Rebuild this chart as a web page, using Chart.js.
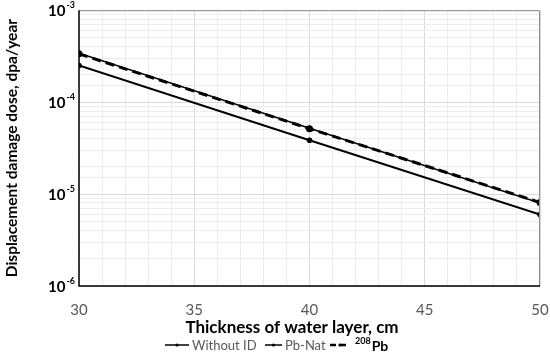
<!DOCTYPE html>
<html>
<head>
<meta charset="utf-8">
<script src="https://cdn.jsdelivr.net/npm/chart.js@4"></script>
<style>
  body { margin: 0; background: #fff; }
  #wrap { width: 550px; height: 355px; }
</style>
</head>
<body>
<div id="wrap"><canvas id="doseChart" width="550" height="355"></canvas></div>
<script>
const thickness = [30, 40, 50];
const withoutId = [2.5e-4, 3.85e-5, 6.0e-6];
const pbNat = [3.4e-4, 5.2e-5, 8.0e-6];
const pb208 = [3.35e-4, 5.15e-5, 8.1e-6];
const seriesNames = ['Without ID', 'Pb-Nat', '208Pb'];
const decadeTicks = [1e-6, 1e-5, 1e-4, 1e-3];
const decadeExps = ['-6', '-5', '-4', '-3'];
const xTitle = 'Thickness of water layer, cm';

const FONT = "Lato, 'Open Sans', sans-serif";

function pairs(ys) {
  return thickness.map((x, i) => ({ x: x, y: ys[i] }));
}

// frame, 10^n labels, x title and the legend with a superscript
const extras = {
  id: 'extras',
  afterDraw: (chart) => {
    const { ctx, chartArea: a, scales: { y } } = chart;
    ctx.save();
    ctx.strokeStyle = '#8c8c8c';
    ctx.lineWidth = 1;
    ctx.beginPath();
    ctx.moveTo(a.left, a.top + 0.5);
    ctx.lineTo(a.right - 0.5, a.top + 0.5);
    ctx.lineTo(a.right - 0.5, a.bottom);
    ctx.stroke();
    ctx.strokeStyle = '#000';
    ctx.lineWidth = 1.5;
    ctx.beginPath();
    ctx.moveTo(a.left, a.top);
    ctx.lineTo(a.left, a.bottom);
    ctx.lineTo(a.right, a.bottom);
    ctx.stroke();

    ctx.fillStyle = '#000';
    ctx.textBaseline = 'middle';
    decadeTicks.forEach((v, i) => {
      const py = y.getPixelForValue(v);
      ctx.font = "bold 9px " + FONT;
      const ew = ctx.measureText(decadeExps[i]).width;
      ctx.textAlign = 'right';
      ctx.fillText(decadeExps[i], a.left - 4, py - 5);
      ctx.font = "bold 15px " + FONT;
      ctx.fillText('10', a.left - 5 - ew, py + 1);
    });

    ctx.textAlign = 'center';
    ctx.font = "bold 17px " + FONT;
    ctx.fillText(xTitle, 292, 328);

    // legend
    const ly = 345;
    const starts = [165, 265, 330];
    const lens = [24, 17, 20];
    ctx.textAlign = 'left';
    seriesNames.forEach((name, i) => {
      let lx = starts[i];
      ctx.strokeStyle = '#000';
      ctx.fillStyle = '#000';
      ctx.lineWidth = i === 2 ? 2.5 : 1.5;
      ctx.setLineDash(i === 2 ? [6, 4] : []);
      ctx.beginPath();
      ctx.moveTo(lx, ly);
      ctx.lineTo(lx + lens[i], ly);
      ctx.stroke();
      ctx.setLineDash([]);
      ctx.beginPath();
      ctx.arc(lx + lens[i] / 2, ly, 1.6, 0, Math.PI * 2);
      ctx.fill();
      lx += lens[i] + 3;
      if (i === 2) {
        ctx.font = "bold 9px " + FONT;
        ctx.fillText(name.slice(0, 3), lx + 2, ly - 4);
        lx += ctx.measureText(name.slice(0, 3)).width + 3;
        ctx.font = "bold 14px " + FONT;
        ctx.fillText(name.slice(3), lx, ly + 1);
      } else {
        ctx.fillStyle = '#595959';
        ctx.font = "13px " + FONT;
        ctx.fillText(name, lx, ly + 1);
      }
    });
    ctx.restore();
  }
};

new Chart(document.getElementById('doseChart').getContext('2d'), {
  type: 'line',
  data: {
    datasets: [
      {
        label: seriesNames[0],
        data: pairs(withoutId),
        borderColor: '#000',
        backgroundColor: '#000',
        borderWidth: 2,
        pointRadius: 1.8,
        pointStyle: 'circle',
        tension: 0
      },
      {
        label: seriesNames[1],
        data: pairs(pbNat),
        borderColor: '#000',
        backgroundColor: '#000',
        borderWidth: 1.5,
        pointRadius: 1.8,
        pointStyle: 'triangle',
        tension: 0
      },
      {
        label: seriesNames[2],
        data: pairs(pb208),
        borderColor: '#000',
        backgroundColor: '#000',
        borderWidth: 3,
        borderDash: [9, 5],
        pointRadius: 2,
        pointStyle: 'circle',
        tension: 0
      }
    ]
  },
  options: {
    responsive: false,
    animation: false,
    layout: { padding: { top: 8, right: 10, left: 3, bottom: 0 } },
    scales: {
      x: {
        type: 'linear',
        min: 30,
        max: 50,
        border: { display: false },
        afterFit: (s) => { s.paddingRight = 0; s.paddingLeft = 0; s.height = 69; },
        ticks: {
          stepSize: 1,
          autoSkip: false,
          maxRotation: 0,
          color: '#595959',
          font: { family: FONT, size: 15 },
          padding: 15,
          callback: (v) => (v % 5 === 0 ? v : '')
        },
        grid: {
          drawTicks: false,
          color: (c) => (c.tick && c.tick.value % 5 === 0 ? '#d9d9d9' : '#ececec')
        }
      },
      y: {
        type: 'logarithmic',
        min: 1e-6,
        max: 1e-3,
        border: { display: false },
        afterFit: (s) => { s.width = 76; },
        ticks: {
          autoSkip: false,
          color: 'rgba(0,0,0,0)',
          callback: () => ''
        },
        grid: {
          drawTicks: false,
          color: (c) => {
            const v = c.tick ? c.tick.value : 0;
            const m = v / Math.pow(10, Math.floor(Math.log10(v) + 1e-9));
            return Math.abs(m - 1) < 1e-6 ? '#d9d9d9' : '#ececec';
          }
        },
        title: {
          display: true,
          text: 'Displacement damage dose, dpa/year',
          color: '#000',
          font: { family: FONT, size: 15.5, weight: 'bold' },
          padding: { top: 0, bottom: 0 }
        }
      }
    },
    plugins: {
      legend: { display: false },
      tooltip: { enabled: false }
    }
  },
  plugins: [extras]
});
</script>
</body>
</html>
